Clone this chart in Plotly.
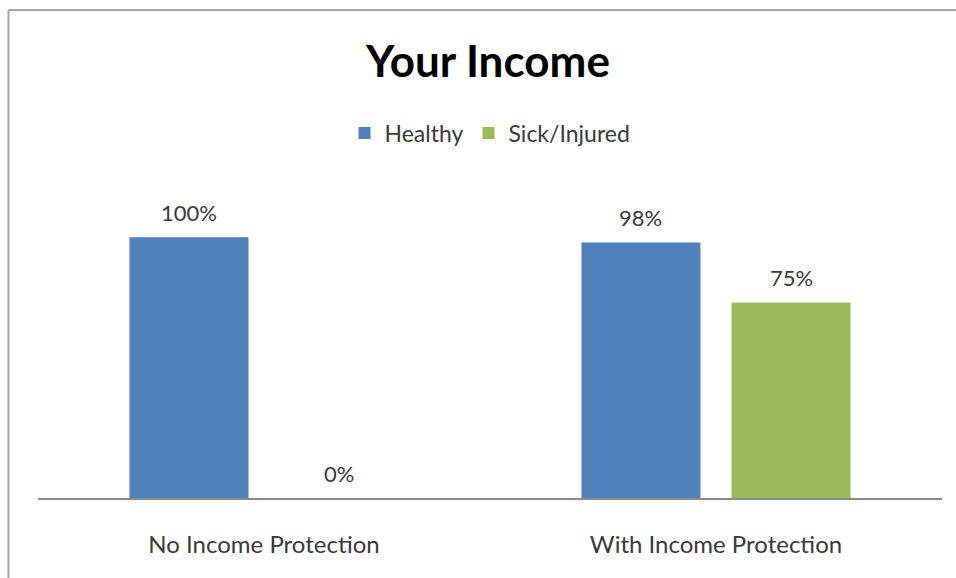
import plotly.graph_objects as go

categories = ["No Income Protection", "With Income Protection"]
healthy = [1.00, 0.98]
sick = [0.00, 0.75]
series_names = ["Healthy", "Sick/Injured"]
colors = ["#4F81BD", "#9BBB59"]

FONT = "Lato"
TEXT = "#3A3A3A"
fig = go.Figure()
for name, vals, col in zip(series_names, [healthy, sick], colors):
    fig.add_trace(go.Bar(name=name, x=categories, y=vals, marker_color=col,
                         marker_line_width=0, offsetgroup=name))

# value labels via annotations at data coordinates (bar centres offset within group)
offsets = [-0.166, 0.166]
for vals, off in zip([healthy, sick], offsets):
    for i, v in enumerate(vals):
        fig.add_annotation(x=i + off, y=v, xref="x", yref="y",
                           text=f"{round(v*100)}%",
                           showarrow=False, yshift=25, yanchor="middle",
                           font=dict(family=FONT, size=22, color=TEXT))

# chart border (left and top edges)
L = (8.5 - 38) / 904
T = (498 - 10) / 313
fig.add_shape(type="line", xref="paper", yref="paper", x0=L, x1=L, y0=-0.4, y1=T,
              line=dict(color="#A6A6A6", width=2))
fig.add_shape(type="line", xref="paper", yref="paper", x0=L, x1=1.1, y0=T, y1=T,
              line=dict(color="#A6A6A6", width=2))

fig.update_layout(
    width=956, height=578,
    margin=dict(l=38, r=14, t=185, b=80),
    paper_bgcolor="white", plot_bgcolor="white",
    barmode="group", bargap=0.336, bargroupgap=0.207,
    title=dict(text="<b>Your Income</b>", x=488 / 956, xanchor="center",
               y=1 - 62 / 578, yanchor="middle", yref="container",
               font=dict(family=FONT, size=44, color="#000000")),
    legend=dict(orientation="h", x=0.5, xanchor="center",
                y=1 - 133 / 578, yanchor="middle", yref="container",
                font=dict(family=FONT, size=23, color=TEXT),
                itemwidth=30, traceorder="normal"),
    font=dict(family=FONT, color=TEXT),
    showlegend=True,
)
fig.update_xaxes(showline=True, linecolor="#8C8C8C", linewidth=2,
                 showgrid=False, ticks="", tickfont=dict(family=FONT, size=24, color=TEXT),
                 ticklabelstandoff=24)
fig.update_yaxes(range=[0, 1.2], visible=False, showgrid=False, zeroline=False)

fig.write_html("out.html", config={"displayModeBar": False},
               post_script="document.body.style.margin='0';document.body.style.padding='0';")
